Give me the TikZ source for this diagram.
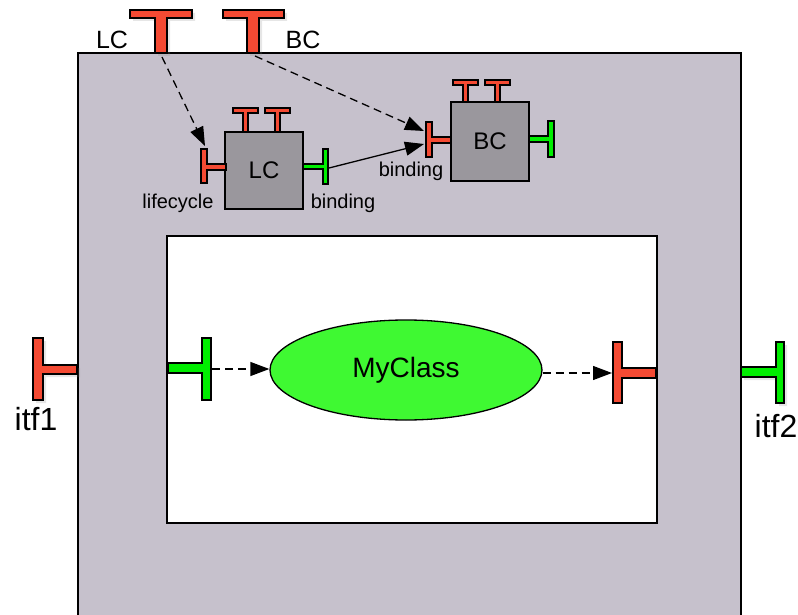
\documentclass[tikz,border=0pt]{standalone}
\usepackage{fontspec}
\setmainfont{Liberation Sans}
\usetikzlibrary{arrows.meta,shapes.geometric,shadows}
\definecolor{outerbg}{HTML}{C6C1CC}
\definecolor{boxgray}{HTML}{9A979D}
\definecolor{portred}{HTML}{F44A33}
\definecolor{portgreen}{HTML}{00EE00}
\definecolor{ellgreen}{HTML}{3FF932}
\begin{document}
\begin{tikzpicture}[x=1pt,y=-1pt,
  port/.style={draw=black,line width=1.2pt,line join=miter},
  redport/.style={port,fill=portred},
  greenport/.style={port,fill=portgreen},
  shport/.style={drop shadow={opacity=0.2,shadow xshift=3pt,shadow yshift=-3pt}},
  compbox/.style={draw=black,line width=1.3pt,fill=boxgray,minimum width=78pt,minimum height=77pt,inner sep=0pt,font=\fontsize{24}{28}\selectfont},
  lbl/.style={inner sep=0pt,font=\fontsize{20}{24}\selectfont},
  biglbl/.style={inner sep=0pt,font=\fontsize{25}{28}\selectfont},
  hugelbl/.style={inner sep=0pt,font=\fontsize{32}{36}\selectfont},
  tip/.style={-{Triangle[length=19pt,width=14pt]}},
  dsh/.style={tip,line width=1.3pt,dash pattern=on 8pt off 5pt},
  sol/.style={tip,line width=1.3pt}]
\useasboundingbox (0,0) rectangle (798,615);
% outer composite
\draw[line width=1.3pt,fill=outerbg] (78,53) rectangle (741,640);
% inner content
\node[draw=black,line width=1.3pt,fill=white,minimum width=490pt,minimum height=287pt,inner sep=0pt] (content) at (412,379.5) {};
% top control ports (external)
\draw[redport,shport] (130,10)--(192,10)--(192,18)--(167,18)--(167,53)--(155,53)--(155,18)--(130,18)--cycle;
\draw[redport,shport] (223,10)--(284,10)--(284,18)--(259,18)--(259,53)--(247,53)--(247,18)--(223,18)--cycle;
\coordinate (lcext) at (162,57);
\coordinate (bcext) at (255,56);
\node[biglbl] (lbllc) at (112,40) {LC};
\node[biglbl] (lblbc) at (303,40) {BC};
% LC component
\draw[redport] (233,108)--(258,108)--(258,113)--(248,113)--(248,132)--(243,132)--(243,113)--(233,113)--cycle;
\draw[redport] (265,108)--(290,108)--(290,113)--(280,113)--(280,132)--(275,132)--(275,113)--(265,113)--cycle;
\node[compbox] (lcbox) at (264,170.5) {LC};
\draw[redport] (201,149)--(207,149)--(207,164)--(226,164)--(226,170)--(207,170)--(207,183)--(201,183)--cycle;
\draw[greenport] (303,164)--(323,164)--(323,149)--(328,149)--(328,184)--(323,184)--(323,169)--(303,169)--cycle;
\coordinate (lclife) at (205,146);
\coordinate (lcbind) at (329,168);
\node[lbl] (lbllife) at (178,203) {lifecycle};
\node[lbl] (lblbind1) at (343,203) {binding};
% BC component
\draw[redport] (453,80)--(478,80)--(478,85)--(468,85)--(468,102)--(463,102)--(463,85)--(453,85)--cycle;
\draw[redport] (485,80)--(510,80)--(510,85)--(500,85)--(500,102)--(495,102)--(495,85)--(485,85)--cycle;
\node[compbox,minimum height=79pt] (bcbox) at (490,141.5) {BC};
\draw[redport] (426,122)--(432,122)--(432,137)--(451,137)--(451,143)--(432,143)--(432,157)--(426,157)--cycle;
\draw[greenport] (529,136)--(548,136)--(548,121)--(554,121)--(554,157)--(548,157)--(548,142)--(529,142)--cycle;
\coordinate (bcin1) at (424,131);
\coordinate (bcin2) at (424,144);
\node[lbl] (lblbind2) at (411,171) {binding};
% external itfs
\draw[redport,shport] (33,338)--(43,338)--(43,365)--(77,365)--(77,374)--(43,374)--(43,400)--(33,400)--cycle;
\draw[greenport,shport] (741,367)--(776,367)--(776,342)--(784,342)--(784,403)--(776,403)--(776,377)--(741,377)--cycle;
\node[hugelbl] (lblitf1) at (36,419) {itf1};
\node[hugelbl] (lblitf2) at (776,426) {itf2};
% internal ports
\draw[greenport] (168,363)--(202,363)--(202,338)--(211,338)--(211,400)--(202,400)--(202,373)--(168,373)--cycle;
\draw[redport] (613,342)--(622,342)--(622,368)--(656,368)--(656,378)--(622,378)--(622,403)--(613,403)--cycle;
\coordinate (inl) at (212,369);
\coordinate (inr) at (612,373);
% MyClass
\node[ellipse,draw=black,line width=1.3pt,fill=ellgreen,minimum width=272pt,minimum height=100pt,inner sep=0pt,font=\fontsize{28}{32}\selectfont] (myclass) at (406,370) {MyClass};
% connectors
\draw[dsh] (lcext) -- (lclife);
\draw[dsh] (bcext) -- (bcin1);
\draw[sol] (lcbind) -- (bcin2);
\draw[dsh] (inl) -- (myclass.west |- inl);
\draw[dsh] (myclass.east |- inr) -- (inr);
\end{tikzpicture}
\end{document}
